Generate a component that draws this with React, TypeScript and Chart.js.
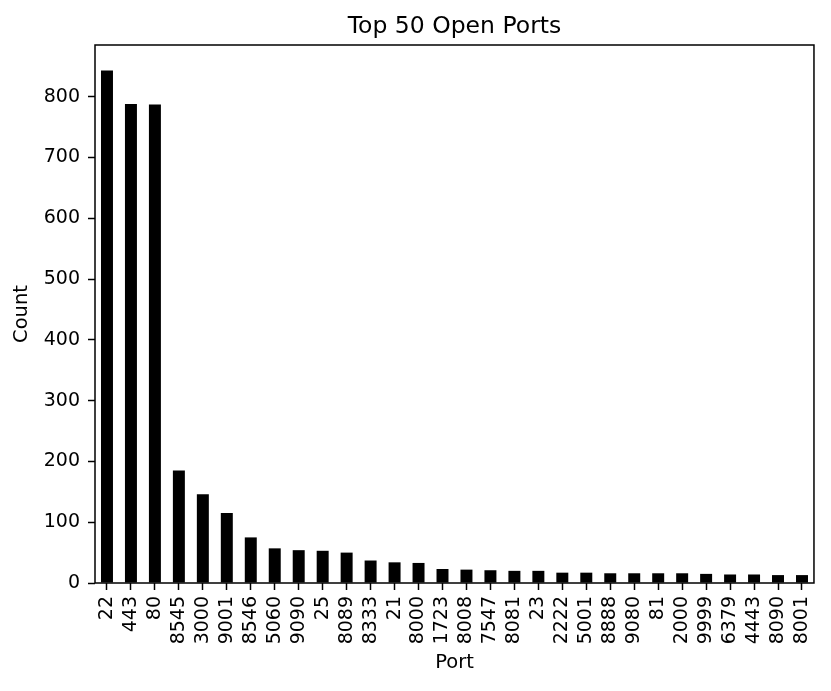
import React, { useEffect, useRef } from "react";
import { Chart, registerables } from "chart.js";

Chart.register(...registerables);

const ports: string[] = [
  "22", "443", "80", "8545", "3000", "9001", "8546", "5060", "9090", "25",
  "8089", "8333", "21", "8000", "1723", "8008", "7547", "8081", "23", "2222",
  "5001", "8888", "9080", "81", "2000", "9999", "6379", "4443", "8090", "8001",
];

const counts: number[] = [
  843, 788, 787, 185, 146, 115, 75, 57, 54, 53,
  50, 37, 34, 33, 23, 22, 21, 20, 20, 17,
  17, 16, 16, 16, 16, 15, 14, 14, 13, 13,
];

const yTicks: number[] = [0, 100, 200, 300, 400, 500, 600, 700, 800];

const titleText = "Top 50 Open Ports";
const xLabel = "Port";
const yLabel = "Count";

const FONT = "'DejaVu Sans', sans-serif";

const framePlugin = {
  id: "mplFrame",
  afterDatasetsDraw(chart: any) {
    const { ctx, chartArea } = chart;
    const cx = (chartArea.left + chartArea.right) / 2;
    ctx.save();
    ctx.strokeStyle = "#000";
    ctx.lineWidth = 1.5;
    ctx.strokeRect(
      chartArea.left,
      chartArea.top,
      chartArea.right - chartArea.left,
      chartArea.bottom - chartArea.top
    );
    ctx.fillStyle = "#000";
    // title
    ctx.font = `23.5px ${FONT}`;
    ctx.textAlign = "center";
    ctx.textBaseline = "alphabetic";
    ctx.fillText(titleText, cx, 33);
    // axis labels
    ctx.font = `19.5px ${FONT}`;
    ctx.textBaseline = "middle";
    ctx.fillText(xLabel, cx, 663);
    ctx.save();
    ctx.translate(22, (chartArea.top + chartArea.bottom) / 2);
    ctx.rotate(-Math.PI / 2);
    ctx.fillText(yLabel, 0, 0);
    ctx.restore();
    ctx.restore();
  },
};

export default function App() {
  const ref = useRef<HTMLCanvasElement | null>(null);

  useEffect(() => {
    if (!ref.current) return;
    const chart = new Chart(ref.current, {
      type: "bar",
      data: {
        labels: ports,
        datasets: [
          {
            label: yLabel,
            data: counts,
            backgroundColor: "#000000",
            borderWidth: 0,
            barPercentage: 0.5,
            categoryPercentage: 1.0,
          },
        ],
      },
      options: {
        responsive: false,
        animation: false,
        devicePixelRatio: 1,
        layout: { padding: { top: 45, right: 13, bottom: 0, left: 0 } },
        plugins: {
          legend: { display: false },
          tooltip: { enabled: false },
          title: { display: false },
        },
        scales: {
          x: {
            offset: true,
            border: { display: false },
            grid: {
              display: true,
              drawOnChartArea: false,
              drawTicks: true,
              tickLength: 7,
              tickWidth: 1.5,
              tickColor: "#000",
              offset: false,
            },
            ticks: {
              autoSkip: false,
              minRotation: 90,
              maxRotation: 90,
              padding: 6,
              color: "#000",
              font: { family: FONT, size: 19 },
            },
            afterFit(scale: any) {
              scale.height = 108;
            },
          },
          y: {
            min: 0,
            max: 885,
            border: { display: false },
            grid: {
              display: true,
              drawOnChartArea: false,
              drawTicks: true,
              tickLength: 7,
              tickWidth: 1.5,
              tickColor: "#000",
            },
            ticks: {
              stepSize: 100,
              includeBounds: false,
              padding: 8,
              color: "#000",
              font: { family: FONT, size: 19 },
            },
            afterBuildTicks(scale: any) {
              scale.ticks = yTicks.map((v) => ({ value: v }));
            },
            afterFit(scale: any) {
              scale.width = 95;
            },
          },
        },
      },
      plugins: [framePlugin],
    });
    return () => chart.destroy();
  }, []);

  return (
    <div style={{ position: "fixed", left: 0, top: 0, width: 831, height: 691, background: "#fff" }}>
      <canvas ref={ref} width={831} height={691} />
    </div>
  );
}
